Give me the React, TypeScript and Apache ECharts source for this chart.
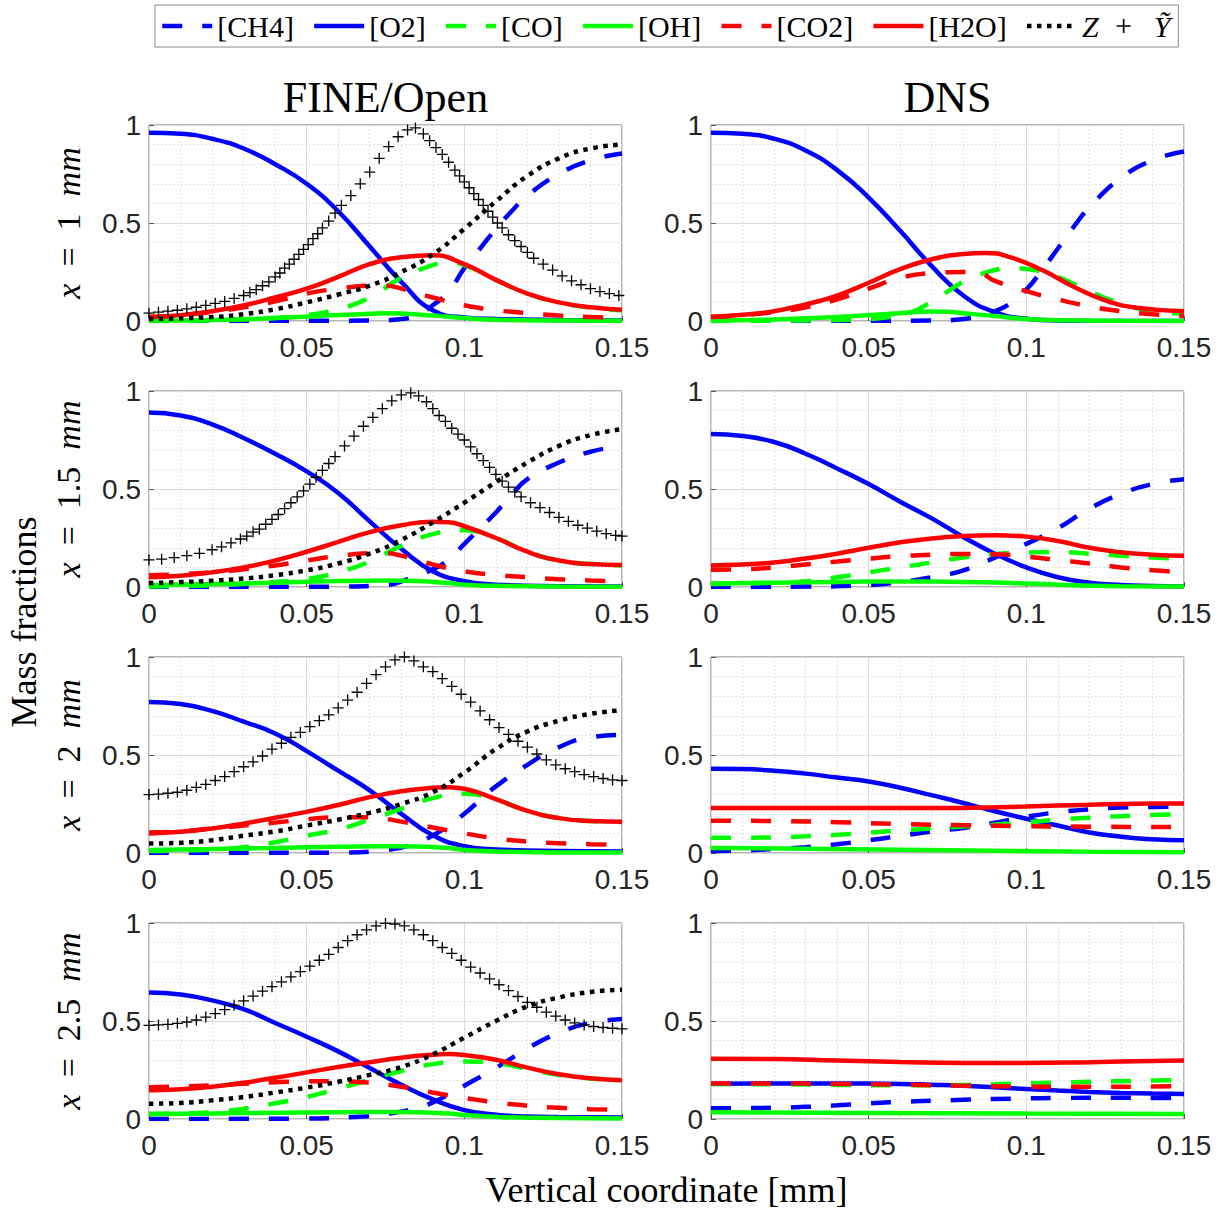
import React, { useEffect, useRef } from 'react';
import * as echarts from 'echarts';

const X_TICKS = [0, 0.05, 0.1, 0.15];
const Y_TICKS = [0, 0.5, 1];
const ROW_LABELS = ['1', '1.5', '2', '2.5'];
const COLUMN_TITLES = ['FINE/Open', 'DNS'];
const LEGEND_NAMES = ['[CH4]', '[O2]', '[CO]', '[OH]', '[CO2]', '[H2O]', 'Z', 'Ỹ'];
const X_LABEL = 'Vertical coordinate [mm]';
const Y_LABEL = 'Mass fractions';

// ---------- FINE/Open, x = 1 mm ----------
const F1_CH4 = [[0,0],[0.07,0.002],[0.08,0.01],[0.085,0.03],[0.09,0.08],[0.095,0.15],[0.1,0.27],[0.105,0.37],[0.11,0.47],[0.115,0.56],[0.12,0.64],[0.13,0.75],[0.14,0.82],[0.15,0.855]];
const F1_O2 = [[0,0.96],[0.01,0.955],[0.02,0.93],[0.03,0.88],[0.04,0.8],[0.05,0.7],[0.06,0.56],[0.07,0.38],[0.08,0.2],[0.09,0.055],[0.1,0.018],[0.11,0.01],[0.13,0.005],[0.15,0.003]];
const F1_CO = [[0,0],[0.02,0.003],[0.03,0.008],[0.04,0.015],[0.05,0.03],[0.06,0.06],[0.07,0.12],[0.08,0.22],[0.09,0.285],[0.095,0.3],[0.1,0.285],[0.11,0.21],[0.12,0.14],[0.13,0.095],[0.14,0.068],[0.15,0.055]];
const F1_OH = [[0,0.002],[0.02,0.005],[0.04,0.015],[0.06,0.03],[0.07,0.037],[0.075,0.04],[0.08,0.038],[0.09,0.028],[0.1,0.015],[0.11,0.006],[0.13,0.002],[0.15,0.001]];
const F1_CO2 = [[0,0.02],[0.01,0.03],[0.02,0.045],[0.03,0.07],[0.04,0.1],[0.05,0.14],[0.06,0.165],[0.07,0.18],[0.075,0.18],[0.08,0.165],[0.09,0.12],[0.1,0.08],[0.11,0.055],[0.12,0.04],[0.13,0.028],[0.14,0.02],[0.15,0.015]];
const F1_H2O = [[0,0.02],[0.01,0.03],[0.02,0.05],[0.03,0.08],[0.04,0.12],[0.05,0.165],[0.06,0.225],[0.07,0.29],[0.08,0.325],[0.09,0.335],[0.1,0.29],[0.11,0.21],[0.12,0.14],[0.13,0.095],[0.14,0.07],[0.15,0.058]];
const F1_Z = [[0,0.01],[0.02,0.02],[0.03,0.035],[0.04,0.06],[0.05,0.095],[0.06,0.135],[0.07,0.18],[0.08,0.25],[0.09,0.34],[0.1,0.47],[0.11,0.61],[0.12,0.74],[0.13,0.83],[0.14,0.88],[0.15,0.9]];
const F1_YT = [[0,0.04],[0.003,0.045],[0.006,0.05],[0.009,0.055],[0.012,0.062],[0.015,0.07],[0.018,0.08],[0.021,0.09],[0.024,0.1],[0.027,0.115],[0.03,0.13],[0.032,0.145],[0.034,0.16],[0.036,0.18],[0.038,0.2],[0.04,0.225],[0.0415,0.245],[0.043,0.27],[0.0445,0.29],[0.046,0.315],[0.0475,0.34],[0.049,0.365],[0.0505,0.39],[0.052,0.42],[0.0535,0.445],[0.055,0.475],[0.057,0.51],[0.059,0.55],[0.061,0.59],[0.064,0.64],[0.067,0.7],[0.07,0.76],[0.073,0.83],[0.076,0.89],[0.079,0.94],[0.082,0.975],[0.0845,0.985],[0.087,0.955],[0.089,0.92],[0.091,0.885],[0.093,0.85],[0.095,0.81],[0.097,0.77],[0.0985,0.74],[0.1,0.71],[0.1015,0.68],[0.103,0.65],[0.1045,0.62],[0.106,0.59],[0.1075,0.56],[0.109,0.53],[0.1105,0.5],[0.112,0.475],[0.114,0.44],[0.116,0.41],[0.118,0.38],[0.12,0.35],[0.122,0.32],[0.125,0.29],[0.128,0.26],[0.131,0.23],[0.134,0.205],[0.137,0.185],[0.14,0.165],[0.143,0.15],[0.146,0.14],[0.149,0.13]];

// ---------- FINE/Open, x = 1.5 mm ----------
const F2_CH4 = [[0,0],[0.06,0.002],[0.075,0.01],[0.082,0.04],[0.09,0.09],[0.095,0.14],[0.1,0.22],[0.105,0.3],[0.11,0.38],[0.115,0.47],[0.12,0.55],[0.13,0.635],[0.14,0.69],[0.15,0.72]];
const F2_O2 = [[0,0.89],[0.01,0.875],[0.02,0.83],[0.03,0.76],[0.04,0.68],[0.05,0.59],[0.06,0.48],[0.07,0.335],[0.08,0.195],[0.09,0.08],[0.1,0.03],[0.11,0.012],[0.13,0.004],[0.15,0.002]];
const F2_CO = [[0,0.002],[0.02,0.008],[0.03,0.015],[0.04,0.025],[0.05,0.04],[0.06,0.075],[0.07,0.13],[0.08,0.21],[0.09,0.27],[0.1,0.29],[0.11,0.25],[0.12,0.18],[0.13,0.135],[0.14,0.117],[0.15,0.11]];
const F2_OH = [[0,0.01],[0.02,0.015],[0.04,0.022],[0.06,0.03],[0.075,0.033],[0.085,0.03],[0.095,0.02],[0.1,0.012],[0.11,0.006],[0.13,0.002],[0.15,0.001]];
const F2_CO2 = [[0,0.06],[0.01,0.065],[0.02,0.075],[0.03,0.09],[0.04,0.11],[0.05,0.135],[0.06,0.158],[0.07,0.172],[0.075,0.172],[0.08,0.16],[0.09,0.115],[0.1,0.08],[0.11,0.062],[0.12,0.05],[0.13,0.04],[0.14,0.033],[0.15,0.03]];
const F2_H2O = [[0,0.05],[0.01,0.058],[0.02,0.075],[0.03,0.1],[0.04,0.135],[0.05,0.18],[0.06,0.23],[0.07,0.28],[0.08,0.315],[0.09,0.333],[0.095,0.33],[0.1,0.31],[0.11,0.25],[0.12,0.18],[0.13,0.135],[0.14,0.117],[0.15,0.112]];
const F2_Z = [[0,0.02],[0.01,0.025],[0.02,0.032],[0.03,0.043],[0.04,0.06],[0.05,0.085],[0.06,0.12],[0.07,0.17],[0.08,0.24],[0.09,0.33],[0.1,0.43],[0.11,0.535],[0.12,0.635],[0.13,0.72],[0.14,0.775],[0.15,0.805]];
const F2_YT = [[0,0.138],[0.004,0.142],[0.008,0.15],[0.012,0.16],[0.016,0.172],[0.02,0.19],[0.023,0.205],[0.026,0.225],[0.029,0.245],[0.031,0.26],[0.033,0.28],[0.035,0.295],[0.037,0.32],[0.039,0.345],[0.041,0.37],[0.043,0.4],[0.045,0.43],[0.047,0.46],[0.049,0.49],[0.051,0.525],[0.053,0.56],[0.055,0.595],[0.057,0.63],[0.059,0.665],[0.062,0.72],[0.065,0.77],[0.068,0.82],[0.071,0.865],[0.074,0.91],[0.077,0.95],[0.08,0.98],[0.083,0.99],[0.0855,0.975],[0.088,0.945],[0.09,0.91],[0.092,0.875],[0.094,0.845],[0.096,0.81],[0.098,0.78],[0.1,0.75],[0.102,0.715],[0.104,0.68],[0.106,0.645],[0.108,0.61],[0.11,0.575],[0.112,0.54],[0.114,0.51],[0.116,0.485],[0.118,0.46],[0.121,0.43],[0.124,0.405],[0.127,0.38],[0.13,0.355],[0.133,0.335],[0.136,0.315],[0.139,0.3],[0.142,0.285],[0.145,0.272],[0.148,0.263],[0.15,0.26]];

// ---------- FINE/Open, x = 2 mm ----------
const F3_CH4 = [[0,0],[0.06,0.002],[0.075,0.015],[0.085,0.05],[0.09,0.09],[0.095,0.14],[0.1,0.2],[0.105,0.27],[0.11,0.34],[0.12,0.45],[0.13,0.54],[0.14,0.59],[0.15,0.603]];
const F3_O2 = [[0,0.77],[0.01,0.76],[0.02,0.725],[0.03,0.67],[0.04,0.61],[0.05,0.52],[0.06,0.42],[0.07,0.32],[0.08,0.2],[0.09,0.09],[0.1,0.035],[0.11,0.018],[0.13,0.01],[0.15,0.008]];
const F3_CO = [[0,0.01],[0.01,0.012],[0.02,0.018],[0.03,0.03],[0.04,0.055],[0.05,0.088],[0.06,0.12],[0.07,0.17],[0.08,0.225],[0.09,0.28],[0.1,0.302],[0.11,0.272],[0.12,0.215],[0.13,0.178],[0.14,0.163],[0.15,0.158]];
const F3_OH = [[0,0.015],[0.02,0.02],[0.04,0.026],[0.06,0.032],[0.075,0.035],[0.085,0.033],[0.095,0.025],[0.1,0.015],[0.11,0.008],[0.13,0.003],[0.15,0.002]];
const F3_CO2 = [[0,0.105],[0.01,0.11],[0.02,0.125],[0.03,0.14],[0.04,0.155],[0.05,0.172],[0.06,0.182],[0.07,0.182],[0.08,0.16],[0.09,0.13],[0.1,0.1],[0.11,0.075],[0.12,0.058],[0.13,0.05],[0.14,0.045],[0.15,0.043]];
const F3_H2O = [[0,0.1],[0.01,0.108],[0.02,0.125],[0.03,0.15],[0.04,0.18],[0.05,0.21],[0.06,0.245],[0.07,0.285],[0.08,0.315],[0.09,0.333],[0.095,0.336],[0.1,0.328],[0.11,0.275],[0.12,0.215],[0.13,0.178],[0.14,0.163],[0.15,0.159]];
const F3_Z = [[0,0.048],[0.01,0.052],[0.02,0.065],[0.03,0.088],[0.04,0.11],[0.05,0.14],[0.06,0.17],[0.07,0.205],[0.08,0.25],[0.09,0.31],[0.1,0.41],[0.11,0.53],[0.12,0.62],[0.13,0.675],[0.14,0.71],[0.15,0.728]];
const F3_YT = [[0,0.298],[0.003,0.3],[0.006,0.305],[0.009,0.31],[0.012,0.32],[0.015,0.335],[0.018,0.35],[0.021,0.37],[0.024,0.39],[0.027,0.415],[0.03,0.44],[0.033,0.465],[0.036,0.495],[0.039,0.53],[0.042,0.56],[0.045,0.59],[0.048,0.615],[0.051,0.645],[0.054,0.675],[0.057,0.705],[0.06,0.74],[0.063,0.78],[0.066,0.82],[0.069,0.865],[0.072,0.91],[0.075,0.95],[0.078,0.985],[0.081,1.0],[0.084,0.98],[0.087,0.95],[0.09,0.925],[0.093,0.89],[0.096,0.85],[0.099,0.81],[0.102,0.77],[0.105,0.725],[0.108,0.68],[0.111,0.64],[0.114,0.605],[0.117,0.57],[0.12,0.54],[0.123,0.505],[0.126,0.475],[0.129,0.45],[0.132,0.43],[0.135,0.415],[0.138,0.4],[0.141,0.39],[0.144,0.38],[0.147,0.373],[0.15,0.37]];

// ---------- FINE/Open, x = 2.5 mm ----------
const F4_CH4 = [[0,0],[0.05,0.002],[0.065,0.01],[0.075,0.025],[0.085,0.055],[0.09,0.085],[0.095,0.125],[0.1,0.17],[0.11,0.26],[0.12,0.36],[0.13,0.44],[0.14,0.49],[0.15,0.51]];
const F4_O2 = [[0,0.645],[0.01,0.635],[0.02,0.605],[0.03,0.56],[0.04,0.49],[0.05,0.42],[0.06,0.345],[0.07,0.26],[0.08,0.175],[0.09,0.1],[0.1,0.045],[0.11,0.022],[0.12,0.013],[0.13,0.01],[0.15,0.008]];
const F4_CO = [[0,0.026],[0.01,0.028],[0.02,0.036],[0.03,0.052],[0.04,0.08],[0.05,0.112],[0.06,0.155],[0.07,0.2],[0.08,0.245],[0.09,0.28],[0.1,0.293],[0.11,0.285],[0.12,0.255],[0.13,0.225],[0.14,0.207],[0.15,0.2]];
const F4_OH = [[0,0.025],[0.02,0.028],[0.04,0.032],[0.06,0.035],[0.075,0.036],[0.085,0.034],[0.095,0.028],[0.1,0.02],[0.11,0.011],[0.12,0.006],[0.15,0.003]];
const F4_CO2 = [[0,0.162],[0.01,0.166],[0.02,0.172],[0.03,0.18],[0.04,0.187],[0.05,0.192],[0.06,0.192],[0.07,0.185],[0.08,0.165],[0.09,0.135],[0.1,0.107],[0.11,0.085],[0.12,0.068],[0.13,0.057],[0.14,0.05],[0.15,0.047]];
const F4_H2O = [[0,0.147],[0.01,0.152],[0.02,0.165],[0.03,0.185],[0.04,0.21],[0.05,0.238],[0.06,0.265],[0.07,0.29],[0.08,0.313],[0.09,0.328],[0.095,0.331],[0.1,0.326],[0.11,0.302],[0.12,0.262],[0.13,0.228],[0.14,0.208],[0.15,0.198]];
const F4_Z = [[0,0.078],[0.01,0.082],[0.02,0.095],[0.03,0.112],[0.04,0.135],[0.05,0.16],[0.06,0.19],[0.07,0.225],[0.08,0.265],[0.09,0.33],[0.1,0.415],[0.11,0.5],[0.12,0.575],[0.13,0.62],[0.14,0.648],[0.15,0.66]];
const F4_YT = [[0,0.478],[0.003,0.48],[0.006,0.483],[0.009,0.488],[0.012,0.495],[0.015,0.505],[0.018,0.52],[0.021,0.538],[0.024,0.558],[0.027,0.58],[0.03,0.603],[0.033,0.627],[0.036,0.652],[0.039,0.675],[0.042,0.7],[0.045,0.725],[0.048,0.752],[0.051,0.78],[0.054,0.81],[0.057,0.84],[0.06,0.875],[0.063,0.91],[0.066,0.94],[0.069,0.965],[0.072,0.985],[0.075,0.998],[0.078,0.995],[0.081,0.985],[0.084,0.965],[0.087,0.94],[0.09,0.91],[0.093,0.875],[0.096,0.845],[0.099,0.81],[0.102,0.775],[0.105,0.745],[0.108,0.715],[0.111,0.685],[0.114,0.655],[0.117,0.625],[0.12,0.595],[0.123,0.57],[0.126,0.545],[0.129,0.525],[0.132,0.505],[0.135,0.49],[0.138,0.48],[0.141,0.472],[0.144,0.467],[0.147,0.463],[0.15,0.46]];

// ---------- DNS, x = 1 mm ----------
const D1_CH4 = [[0,0],[0.07,0.002],[0.08,0.01],[0.085,0.025],[0.09,0.05],[0.095,0.09],[0.1,0.16],[0.105,0.26],[0.11,0.37],[0.115,0.48],[0.12,0.58],[0.13,0.73],[0.14,0.82],[0.15,0.865]];
const D1_O2 = [[0,0.96],[0.01,0.955],[0.02,0.93],[0.03,0.87],[0.04,0.77],[0.05,0.63],[0.06,0.46],[0.07,0.28],[0.08,0.13],[0.09,0.045],[0.1,0.012],[0.11,0.003],[0.13,0],[0.15,0]];
const D1_CO = [[0,0],[0.03,0.003],[0.05,0.01],[0.06,0.03],[0.065,0.055],[0.07,0.1],[0.075,0.15],[0.08,0.2],[0.085,0.235],[0.09,0.26],[0.095,0.27],[0.1,0.265],[0.11,0.225],[0.12,0.15],[0.13,0.09],[0.14,0.05],[0.15,0.038]];
const D1_OH = [[0,0.003],[0.02,0.008],[0.04,0.02],[0.06,0.04],[0.07,0.048],[0.075,0.047],[0.08,0.04],[0.09,0.025],[0.1,0.01],[0.11,0.004],[0.13,0.001],[0.15,0]];
const D1_CO2 = [[0,0.02],[0.01,0.03],[0.02,0.045],[0.03,0.07],[0.04,0.11],[0.05,0.165],[0.06,0.22],[0.07,0.245],[0.08,0.25],[0.085,0.245],[0.09,0.205],[0.1,0.152],[0.11,0.11],[0.12,0.075],[0.13,0.05],[0.14,0.035],[0.15,0.025]];
const D1_H2O = [[0,0.022],[0.01,0.032],[0.02,0.05],[0.03,0.085],[0.04,0.13],[0.05,0.195],[0.06,0.265],[0.07,0.315],[0.08,0.342],[0.087,0.347],[0.095,0.325],[0.105,0.26],[0.115,0.175],[0.125,0.105],[0.135,0.068],[0.15,0.05]];

// ---------- DNS, x = 1.5 mm ----------
const D2_CH4 = [[0,0],[0.03,0.002],[0.05,0.01],[0.06,0.025],[0.07,0.05],[0.08,0.085],[0.09,0.15],[0.1,0.22],[0.11,0.3],[0.12,0.4],[0.13,0.475],[0.14,0.525],[0.15,0.55]];
const D2_O2 = [[0,0.78],[0.01,0.77],[0.02,0.74],[0.03,0.68],[0.04,0.605],[0.05,0.525],[0.06,0.435],[0.07,0.35],[0.08,0.255],[0.09,0.17],[0.1,0.1],[0.11,0.05],[0.12,0.022],[0.13,0.01],[0.14,0.005],[0.15,0.003]];
const D2_CO = [[0,0.015],[0.01,0.017],[0.02,0.022],[0.03,0.03],[0.04,0.05],[0.05,0.075],[0.06,0.1],[0.07,0.125],[0.08,0.15],[0.09,0.168],[0.1,0.176],[0.11,0.178],[0.12,0.17],[0.13,0.16],[0.14,0.15],[0.15,0.145]];
const D2_OH = [[0,0.018],[0.02,0.022],[0.04,0.026],[0.06,0.028],[0.08,0.026],[0.1,0.018],[0.11,0.012],[0.12,0.007],[0.13,0.004],[0.15,0.002]];
const D2_CO2 = [[0,0.088],[0.01,0.09],[0.02,0.1],[0.03,0.115],[0.04,0.13],[0.05,0.145],[0.06,0.157],[0.07,0.165],[0.08,0.168],[0.09,0.167],[0.1,0.155],[0.11,0.138],[0.12,0.12],[0.13,0.1],[0.14,0.085],[0.15,0.075]];
const D2_H2O = [[0,0.11],[0.01,0.115],[0.02,0.125],[0.03,0.145],[0.04,0.17],[0.05,0.2],[0.06,0.228],[0.07,0.248],[0.08,0.26],[0.09,0.264],[0.1,0.257],[0.11,0.235],[0.12,0.2],[0.13,0.177],[0.14,0.165],[0.15,0.16]];

// ---------- DNS, x = 2 mm ----------
const D3_CH4 = [[0,0.01],[0.01,0.013],[0.02,0.02],[0.03,0.03],[0.04,0.045],[0.05,0.065],[0.06,0.087],[0.07,0.11],[0.08,0.128],[0.09,0.155],[0.1,0.185],[0.11,0.208],[0.12,0.223],[0.13,0.232],[0.14,0.235],[0.15,0.237]];
const D3_O2 = [[0,0.43],[0.01,0.428],[0.02,0.42],[0.03,0.405],[0.04,0.385],[0.05,0.365],[0.06,0.333],[0.07,0.295],[0.08,0.255],[0.09,0.213],[0.1,0.175],[0.11,0.14],[0.12,0.105],[0.13,0.083],[0.14,0.07],[0.15,0.065]];
const D3_CO = [[0,0.078],[0.01,0.078],[0.02,0.08],[0.03,0.085],[0.04,0.093],[0.05,0.104],[0.06,0.115],[0.07,0.125],[0.08,0.135],[0.09,0.145],[0.1,0.157],[0.11,0.17],[0.12,0.18],[0.13,0.188],[0.14,0.194],[0.15,0.197]];
const D3_OH = [[0,0.026],[0.03,0.022],[0.06,0.017],[0.09,0.012],[0.12,0.007],[0.15,0.004]];
const D3_CO2 = [[0,0.165],[0.02,0.163],[0.04,0.157],[0.06,0.148],[0.08,0.142],[0.1,0.137],[0.12,0.134],[0.15,0.132]];
const D3_H2O = [[0,0.23],[0.02,0.23],[0.04,0.229],[0.06,0.229],[0.08,0.23],[0.09,0.233],[0.1,0.237],[0.11,0.242],[0.12,0.246],[0.13,0.25],[0.14,0.252],[0.15,0.253]];

// ---------- DNS, x = 2.5 mm ----------
const D4_CH4 = [[0,0.055],[0.02,0.057],[0.03,0.062],[0.04,0.07],[0.05,0.08],[0.06,0.087],[0.07,0.093],[0.08,0.098],[0.09,0.102],[0.1,0.105],[0.11,0.107],[0.12,0.108],[0.13,0.108],[0.14,0.107],[0.15,0.107]];
const D4_O2 = [[0,0.18],[0.02,0.181],[0.04,0.181],[0.06,0.179],[0.07,0.175],[0.08,0.17],[0.09,0.162],[0.1,0.153],[0.11,0.145],[0.12,0.138],[0.13,0.133],[0.14,0.13],[0.15,0.128]];
const D4_CO = [[0,0.178],[0.02,0.177],[0.04,0.174],[0.06,0.172],[0.08,0.174],[0.09,0.177],[0.1,0.182],[0.11,0.186],[0.12,0.19],[0.13,0.193],[0.14,0.196],[0.15,0.198]];
const D4_OH = [[0,0.034],[0.05,0.031],[0.1,0.028],[0.15,0.026]];
const D4_CO2 = [[0,0.181],[0.02,0.181],[0.04,0.179],[0.06,0.175],[0.08,0.17],[0.1,0.165],[0.12,0.164],[0.14,0.166],[0.15,0.167]];
const D4_H2O = [[0,0.308],[0.02,0.306],[0.04,0.298],[0.06,0.291],[0.08,0.286],[0.1,0.286],[0.12,0.29],[0.14,0.296],[0.15,0.298]];

const FINE_PANELS = [
  [F1_CH4, F1_O2, F1_CO, F1_OH, F1_CO2, F1_H2O, F1_Z, F1_YT],
  [F2_CH4, F2_O2, F2_CO, F2_OH, F2_CO2, F2_H2O, F2_Z, F2_YT],
  [F3_CH4, F3_O2, F3_CO, F3_OH, F3_CO2, F3_H2O, F3_Z, F3_YT],
  [F4_CH4, F4_O2, F4_CO, F4_OH, F4_CO2, F4_H2O, F4_Z, F4_YT],
];
const DNS_PANELS = [
  [D1_CH4, D1_O2, D1_CO, D1_OH, D1_CO2, D1_H2O],
  [D2_CH4, D2_O2, D2_CO, D2_OH, D2_CO2, D2_H2O],
  [D3_CH4, D3_O2, D3_CO, D3_OH, D3_CO2, D3_H2O],
  [D4_CH4, D4_O2, D4_CO, D4_OH, D4_CO2, D4_H2O],
];

const DASH = [20, 20];
const LINE_STYLES: any[] = [
  { color: '#0000ff', type: DASH },
  { color: '#0000ff', type: 'solid' },
  { color: '#00ff00', type: DASH },
  { color: '#00ff00', type: 'solid' },
  { color: '#ff0000', type: DASH },
  { color: '#ff0000', type: 'solid' },
  { color: '#000000', type: [4.5, 5.5] },
];
const PLUS = 'path://M0,4.4H10V5.6H0Z M4.4,0H5.6V10H4.4Z';

const SANS = '"Liberation Sans", Arial, Helvetica, sans-serif';
const SERIF = '"Liberation Serif", "Times New Roman", serif';

const GRID_LEFT = [149, 711];
const GRID_TOP0 = 125;
const GRID_STEP = 266;
const GRID_W = 473;
const GRID_H = 196;

function fmt(v: number) {
  return String(Math.round(v * 1000) / 1000);
}

function buildOption() {
  const grids: any[] = [];
  const xAxes: any[] = [];
  const yAxes: any[] = [];
  const series: any[] = [];
  for (let r = 0; r < 4; r++) {
    for (let c = 0; c < 2; c++) {
      const idx = grids.length;
      grids.push({
        left: GRID_LEFT[c], top: GRID_TOP0 + r * GRID_STEP, width: GRID_W, height: GRID_H,
        show: true, borderColor: '#6e6e6e', borderWidth: 1, backgroundColor: '#ffffff',
      });
      const common = {
        type: 'value', gridIndex: idx,
        axisLine: { show: false },
        axisTick: { show: true, inside: true, length: 5, lineStyle: { color: '#555', width: 1 } },
        splitLine: { show: true, lineStyle: { color: '#dcdcdc', width: 1 } },
        minorTick: { show: false, splitNumber: 5 },
        minorSplitLine: { show: true, lineStyle: { color: '#e2e2e2', width: 1, type: [2, 2] } },
        axisLabel: { fontFamily: SANS, fontSize: 28, color: '#262626', formatter: fmt },
      };
      xAxes.push({
        ...common,
        min: X_TICKS[0], max: X_TICKS[X_TICKS.length - 1], interval: X_TICKS[1] - X_TICKS[0],
        axisLabel: { ...common.axisLabel, margin: 12, showMaxLabel: true, showMinLabel: true },
      });
      yAxes.push({
        ...common,
        min: Y_TICKS[0], max: Y_TICKS[Y_TICKS.length - 1], interval: Y_TICKS[1] - Y_TICKS[0],
        axisLabel: { ...common.axisLabel, margin: 8, showMaxLabel: true, showMinLabel: true },
        ...(c === 0
          ? {
              name: `{i|x}  =  ${ROW_LABELS[r]}  {i|mm}`,
              nameLocation: 'middle', nameRotate: 90, nameGap: 64,
              nameTextStyle: {
                fontFamily: SERIF, fontSize: 34, color: '#000',
                rich: { i: { fontFamily: SERIF, fontSize: 34, fontStyle: 'italic', color: '#000' } },
              },
            }
          : {}),
      });
      const panel = c === 0 ? FINE_PANELS[r] : DNS_PANELS[r];
      panel.forEach((data, k) => {
        if (k < 7) {
          series.push({
            type: 'line', name: LEGEND_NAMES[k], xAxisIndex: idx, yAxisIndex: idx,
            data, symbol: 'circle', showSymbol: false, smooth: 0.5,
            lineStyle: { color: LINE_STYLES[k].color, type: LINE_STYLES[k].type, width: 4.5, cap: 'butt' },
            itemStyle: { color: LINE_STYLES[k].color },
            z: 2 + k,
          });
        } else {
          series.push({
            type: 'scatter', name: LEGEND_NAMES[k], xAxisIndex: idx, yAxisIndex: idx,
            data, symbol: PLUS, symbolSize: 11,
            itemStyle: { color: '#000', opacity: 1 },
            z: 10,
          });
        }
      });
    }
  }

  const legendData = LEGEND_NAMES.map((name, k) =>
    k < 7 ? { name, itemStyle: { opacity: 0 } } : { name }
  );

  return {
    animation: false,
    backgroundColor: '#ffffff',
    grid: grids,
    xAxis: xAxes,
    yAxis: yAxes,
    series,
    legend: {
      data: legendData,
      left: 155, top: 5,
      orient: 'horizontal',
      itemWidth: 50, itemHeight: 14, itemGap: 18,
      padding: [6, 8, 6, 5],
      borderColor: '#8a8a8a', borderWidth: 1, backgroundColor: '#fff',
      selectedMode: false,
      lineStyle: { width: 4.5 },
      formatter: (name: string) => (name === 'Z' || name === 'Ỹ' ? `{i|${name}}` : name),
      textStyle: {
        fontFamily: SERIF, fontSize: 30, color: '#000',
        rich: { i: { fontFamily: SERIF, fontSize: 30, fontStyle: 'italic', color: '#000' } },
      },
    },
    graphic: [
      ...COLUMN_TITLES.map((t, c) => ({
        type: 'text', x: GRID_LEFT[c] + GRID_W / 2, y: 97,
        style: { text: t, font: `44px ${SERIF}`, fill: '#000', textAlign: 'center', textVerticalAlign: 'middle' },
      })),
      {
        type: 'text', x: 24, y: 622, rotation: Math.PI / 2,
        style: { text: Y_LABEL, font: `36px ${SERIF}`, fill: '#000', textAlign: 'center', textVerticalAlign: 'middle' },
      },
      {
        type: 'text', x: (GRID_LEFT[0] + GRID_LEFT[1] + GRID_W) / 2, y: 1190,
        style: { text: X_LABEL, font: `36px ${SERIF}`, fill: '#000', textAlign: 'center', textVerticalAlign: 'middle' },
      },
    ],
  };
}

export default function App() {
  const ref = useRef<HTMLDivElement>(null);
  useEffect(() => {
    if (!ref.current) return;
    const chart = echarts.init(ref.current, undefined, { renderer: 'svg' });
    chart.setOption(buildOption() as any);
    return () => chart.dispose();
  }, []);
  return (
    <div
      ref={ref}
      style={{ position: 'absolute', left: 0, top: 0, width: 1216, height: 1209, background: '#fff' }}
    />
  );
}
